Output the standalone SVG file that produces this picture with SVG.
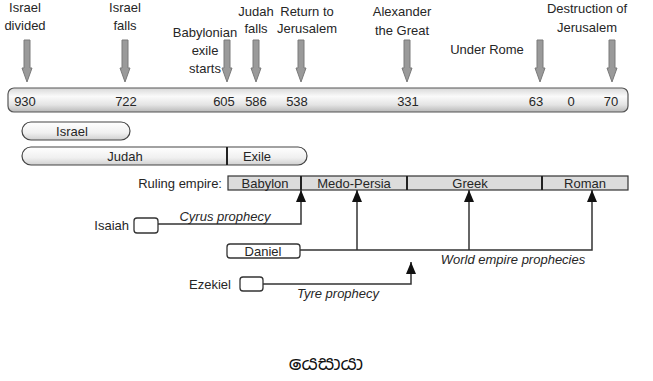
<svg xmlns="http://www.w3.org/2000/svg" width="653" height="381" viewBox="0 0 653 381">
<defs>
<linearGradient id="barGrad" x1="0" y1="0" x2="0" y2="1">
<stop offset="0" stop-color="#d8d8d8"/>
<stop offset="0.35" stop-color="#fafafa"/>
<stop offset="0.7" stop-color="#e4e4e4"/>
<stop offset="1" stop-color="#b8b8b8"/>
</linearGradient>
<linearGradient id="pillGrad" x1="0" y1="0" x2="0" y2="1">
<stop offset="0" stop-color="#ffffff"/>
<stop offset="0.6" stop-color="#f0f0f0"/>
<stop offset="1" stop-color="#d0d0d0"/>
</linearGradient>
<marker id="ah" markerWidth="12" markerHeight="10" viewBox="0 0 12 10" refX="12" refY="5" orient="auto" markerUnits="userSpaceOnUse">
<path d="M0,0 L12,5 L0,10 Z" fill="#111"/>
</marker>
<path id="downArrow" d="M-3,0 H3 V28 H5 L0,42 L-5,28 H-3 Z" fill="#9a9a9a" stroke="#7a7a7a" stroke-width="1"/>
</defs>
<style>
text{font-family:"Liberation Sans",Arial,sans-serif;font-size:13px;fill:#262626}
.c{text-anchor:middle}
.r{text-anchor:end}
.i{font-style:italic}
.ln{fill:none;stroke:#333;stroke-width:1.5}
.pill{fill:url(#pillGrad);stroke:#444;stroke-width:1.2}
.emp{fill:#dcdcdc;stroke:#333;stroke-width:1.2}
.div{stroke:#222;stroke-width:2}
.box{fill:#fff;stroke:#333;stroke-width:1.3}
</style>
<rect width="653" height="381" fill="#fff"/>

<g id="events">
<text class="c" x="25" y="12">Israel</text><text class="c" x="25" y="30">divided</text>
<text class="c" x="125" y="12">Israel</text><text class="c" x="125" y="30">falls</text>
<text class="c" x="205" y="37">Babylonian</text><text class="c" x="205" y="55">exile</text><text class="c" x="205" y="73">starts</text>
<text class="c" x="256" y="16">Judah</text><text class="c" x="256" y="33">falls</text>
<text class="c" x="307" y="16">Return to</text><text class="c" x="307" y="33">Jerusalem</text>
<text class="c" x="402" y="16">Alexander</text><text class="c" x="402" y="35">the Great</text>
<text class="c" x="487" y="54">Under Rome</text>
<text class="c" x="587" y="13">Destruction of</text><text class="c" x="587" y="32">Jerusalem</text>
<use href="#downArrow" x="27" y="40"/>
<use href="#downArrow" x="125" y="40"/>
<use href="#downArrow" x="227" y="40"/>
<use href="#downArrow" x="256" y="40"/>
<use href="#downArrow" x="301" y="40"/>
<use href="#downArrow" x="407" y="40"/>
<use href="#downArrow" x="540" y="40"/>
<use href="#downArrow" x="612" y="40"/>
</g>

<g id="timeline">
<rect x="8" y="88" width="620" height="24" rx="6" fill="url(#barGrad)" stroke="#555" stroke-width="1.2"/>
<text class="c" x="25" y="106">930</text>
<text class="c" x="126" y="106">722</text>
<text class="c" x="224" y="106">605</text>
<text class="c" x="256" y="106">586</text>
<text class="c" x="297" y="106">538</text>
<text class="c" x="408" y="106">331</text>
<text class="c" x="536" y="106">63</text>
<text class="c" x="571" y="106">0</text>
<text class="c" x="611" y="106">70</text>
</g>

<g id="israel">
<rect class="pill" x="22" y="122" width="108" height="18" rx="9"/>
<text class="c" x="72" y="136">Israel</text>
</g>

<g id="judah-exile">
<rect class="pill" x="22" y="147" width="285" height="18" rx="9"/>
<line class="div" x1="227" y1="147" x2="227" y2="165"/>
<text class="c" x="125" y="161">Judah</text>
<text class="c" x="257" y="161">Exile</text>
</g>

<g id="empires">
<text class="r" x="222" y="188">Ruling empire:</text>
<rect class="emp" x="228" y="176" width="400" height="14"/>
<line class="div" x1="301" y1="176" x2="301" y2="190"/>
<line class="div" x1="407" y1="176" x2="407" y2="190"/>
<line class="div" x1="542" y1="176" x2="542" y2="190"/>
<text class="c" x="265" y="188">Babylon</text>
<text class="c" x="354" y="188">Medo-Persia</text>
<text class="c" x="470" y="188">Greek</text>
<text class="c" x="585" y="188">Roman</text>
</g>

<g id="isaiah">
<text class="r" x="129" y="230">Isaiah</text>
<rect class="box" x="134" y="218" width="24" height="15" rx="3"/>
</g>

<g id="daniel">
<rect class="box" x="227" y="244" width="73" height="14" rx="3"/>
<text class="c" x="263" y="256">Daniel</text>
</g>

<g id="ezekiel">
<text class="r" x="231" y="289">Ezekiel</text>
<rect class="box" x="240" y="277" width="23" height="14" rx="3"/>
</g>

<g id="connectors">
<polyline class="ln" points="158,224 301,224 301,190" marker-end="url(#ah)"/>
<polyline class="ln" points="300,250 592,250 592,190" marker-end="url(#ah)"/>
<line class="ln" x1="357" y1="250" x2="357" y2="190" marker-end="url(#ah)"/>
<line class="ln" x1="469" y1="250" x2="469" y2="190" marker-end="url(#ah)"/>
<polyline class="ln" points="263,284 411,284 411,262" marker-end="url(#ah)"/>
<text class="c i" x="225" y="221">Cyrus prophecy</text>
<text class="c i" x="513" y="264">World empire prophecies</text>
<text class="c i" x="338" y="298">Tyre prophecy</text>
</g>

<text class="c" x="326" y="370" style="font-family:'Noto Sans Sinhala','Noto Sans','Liberation Sans',sans-serif;font-size:20px;fill:#111">යෙසායා</text>
</svg>
